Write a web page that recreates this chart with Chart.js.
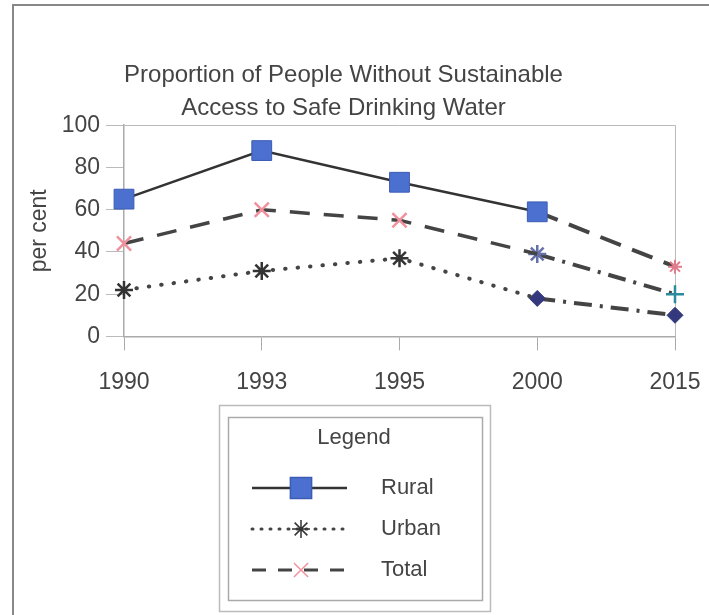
<!DOCTYPE html>
<html>
<head>
<meta charset="utf-8">
<script src="https://cdn.jsdelivr.net/npm/chart.js@4.4.1/dist/chart.umd.min.js"></script>
<style>
  html, body { margin: 0; padding: 0; background: #fff; }
  #wrap { width: 709px; height: 615px; position: relative; }
</style>
</head>
<body>
<div id="wrap"><canvas id="chart" width="709" height="615"></canvas></div>
<script>
// data
const years = ["1990", "1993", "1995", "2000", "2015"];
const rural = [65, 88, 73, 59, null];
const urban = [22, 31, 37, 18, null];
const total = [44, 60, 55, 39, null];
// projections from 2000 to 2015
const ruralTarget = [null, null, null, 59, 33];
const totalTarget = [null, null, null, 39, 20];
const urbanTarget = [null, null, null, 18, 10];
const yTicks = [0, 20, 40, 60, 80, 100];
const seriesNames = ["Rural", "Urban", "Total"];

const FONT = "'Liberation Sans', Arial, sans-serif";
const TEXT = "#444";

// frame + legend box drawn on the canvas
const legendBox = {
  id: "legendBox",
  beforeDraw(chart) {
    const ctx = chart.ctx;
    ctx.save();
    ctx.strokeStyle = "#888";
    ctx.lineWidth = 2;
    ctx.beginPath();
    ctx.moveTo(13, 615);
    ctx.lineTo(13, 5);
    ctx.lineTo(709, 5);
    ctx.stroke();
    ctx.restore();
  },
  afterDraw(chart) {
    const ctx = chart.ctx;
    ctx.save();
    ctx.strokeStyle = "#bbb";
    ctx.lineWidth = 1.5;
    ctx.strokeRect(219.5, 405.5, 271, 206);
    ctx.strokeStyle = "#aaa";
    ctx.strokeRect(228.5, 417.5, 254, 183);

    ctx.fillStyle = TEXT;
    ctx.font = "22px " + FONT;
    ctx.textAlign = "center";
    ctx.textBaseline = "middle";
    ctx.fillText("Legend", 354, 438);

    const rows = [488, 529, 570];
    seriesNames.forEach((name, i) => {
      const ds = chart.data.datasets[i];
      const y = rows[i];
      ctx.save();
      ctx.strokeStyle = ds.borderColor;
      ctx.lineWidth = Math.min(ds.borderWidth, 3);
      ctx.lineCap = ds.borderCapStyle || "butt";
      ctx.setLineDash(i === 1 ? [1, 8] : (i === 2 ? [14, 12] : []));
      ctx.beginPath();
      ctx.moveTo(252, y);
      ctx.lineTo(347, y);
      ctx.stroke();
      ctx.restore();

      ctx.save();
      ctx.fillStyle = ds.pointBackgroundColor;
      ctx.strokeStyle = ds.pointBorderColor;
      Chart.helpers.drawPoint(ctx, {
        pointStyle: ds.pointStyle,
        radius: ds.legendRadius,
        borderWidth: ds.pointBorderWidth,
        rotation: 0
      }, 301, y);
      ctx.restore();

      ctx.fillStyle = TEXT;
      ctx.font = "22px " + FONT;
      ctx.textAlign = "left";
      ctx.fillText(name, 381, y);
    });
    ctx.restore();
  }
};

new Chart(document.getElementById("chart"), {
  type: "line",
  data: {
    labels: years,
    datasets: [
      {
        label: "Rural",
        data: rural,
        borderColor: "#333",
        borderWidth: 2.5,
        pointStyle: "rect",
        pointRadius: 14,
        legendRadius: 15,
        pointBackgroundColor: "#4b70d0",
        pointBorderColor: "#3c5cb4",
        pointBorderWidth: 1
      },
      {
        label: "Urban",
        data: urban,
        borderColor: "#444",
        borderWidth: 4,
        borderCapStyle: "round",
        borderDash: [0.5, 12],
        pointStyle: "star",
        pointRadius: [9, 9, 9, 0, 0],
        legendRadius: 9,
        pointBackgroundColor: "#333",
        pointBorderColor: "#333",
        pointBorderWidth: 2.5
      },
      {
        label: "Total",
        data: total,
        borderColor: "#444",
        borderWidth: 3.5,
        borderDash: [20, 14],
        pointStyle: "crossRot",
        pointRadius: [10, 10, 10, 0, 0],
        legendRadius: 10,
        pointBackgroundColor: "#f2909c",
        pointBorderColor: "#f2909c",
        pointBorderWidth: 2.5
      },
      {
        label: "Rural target",
        data: ruralTarget,
        borderColor: "#444",
        borderWidth: 4,
        borderDash: [22, 12],
        pointStyle: "star",
        pointRadius: [0, 0, 0, 0, 7],
        pointBackgroundColor: "#e07c8c",
        pointBorderColor: "#e07c8c",
        pointBorderWidth: 2
      },
      {
        label: "Total target",
        data: totalTarget,
        borderColor: "#444",
        borderWidth: 4,
        borderDash: [18, 8, 3, 8],
        pointStyle: ["star", "star", "star", "star", "cross"],
        pointRadius: [0, 0, 0, 9, 9],
        pointBackgroundColor: ["#6670a8", "#6670a8", "#6670a8", "#6670a8", "#2b8a9c"],
        pointBorderColor: ["#6670a8", "#6670a8", "#6670a8", "#6670a8", "#2b8a9c"],
        pointBorderWidth: 2.5
      },
      {
        label: "Urban target",
        data: urbanTarget,
        borderColor: "#444",
        borderWidth: 4,
        borderDash: [18, 8, 3, 8],
        pointStyle: "rectRot",
        pointRadius: [0, 0, 0, 8, 8],
        pointBackgroundColor: "#34397e",
        pointBorderColor: "#34397e",
        pointBorderWidth: 1
      }
    ]
  },
  options: {
    responsive: false,
    animation: false,
    spanGaps: false,
    layout: { padding: { top: 59, right: 34, bottom: 201, left: 12 } },
    plugins: {
      legend: { display: false },
      tooltip: { enabled: false },
      title: {
        display: true,
        text: ["Proportion of People Without Sustainable", "Access to Safe Drinking Water"],
        color: TEXT,
        font: { family: FONT, size: 24, weight: "normal", lineHeight: 1.38 },
        padding: { top: 0, bottom: 0 }
      }
    },
    scales: {
      x: {
        offset: false,
        afterFit: (s) => { s.paddingLeft = 0; s.paddingRight = 0; },
        grid: {
          color: (c) => (c.index === years.length - 1 ? "#bbb" : "transparent"),
          tickColor: "#aaa",
          tickLength: 14
        },
        border: { color: "#aaa", width: 1.5 },
        ticks: { color: TEXT, padding: 18, font: { family: FONT, size: 23 } }
      },
      y: {
        min: 0,
        max: 100,
        afterFit: (s) => { s.width = 112; s.paddingTop = 0; s.paddingBottom = 0; },
        afterBuildTicks: (s) => { s.ticks = yTicks.map((v) => ({ value: v })); },
        grid: {
          color: (c) => (c.tick && c.tick.value === 100 ? "#bbb" : "transparent"),
          tickColor: "#bbb",
          tickLength: 18
        },
        border: { color: "#aaa", width: 1.5 },
        ticks: { color: TEXT, padding: 6, font: { family: FONT, size: 23 } },
        title: {
          display: true,
          text: "per cent",
          color: TEXT,
          font: { family: FONT, size: 23 },
          padding: { top: 14 }
        }
      }
    }
  },
  plugins: [legendBox]
});
</script>
</body>
</html>
